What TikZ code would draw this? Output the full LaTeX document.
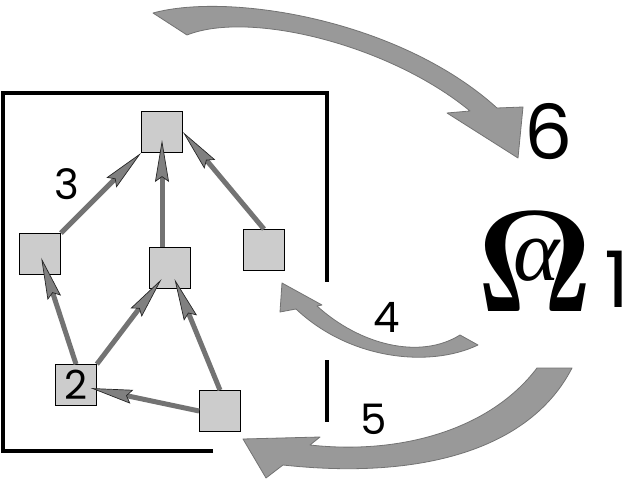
\documentclass[tikz,border=0pt]{standalone}
\usepackage[no-math]{fontspec}
\setmainfont{Poppins}
\newfontfamily\omegafont{Liberation Serif}
\usetikzlibrary{arrows.meta}
\tikzset{vertex/.style={draw, fill=black!20, line width=0.8pt, minimum size=41pt, inner sep=0pt}}
\tikzset{link/.style={draw=black!55, line width=5pt, -{Stealth[length=42pt, width=14pt, inset=5pt, fill=black!50, color=black!85, line width=0.7pt]}}}
\tikzset{bigarrow/.style={fill=black!40, draw=black!55, line width=0.8pt, line join=round}}
\tikzset{frame/.style={line width=4pt}}
\tikzset{numlbl/.style={inner sep=0pt, font=\fontsize{42}{42}\selectfont}}
\begin{document}
\begin{tikzpicture}[x=1pt, y=-1pt]
\useasboundingbox (0,0) rectangle (630,484);

% graph inside the frame
\node[vertex] (top) at (162,132) {};
\node[vertex] (lft) at (40,254) {};
\node[vertex] (mid) at (170,268) {};
\node[vertex] (rgt) at (264,250) {};
\node[vertex, font=\fontsize{40}{40}\selectfont] (two) at (76,385) {2};
\node[vertex] (bot) at (220,411) {};

\draw[link] (lft.north east) -- (top.south west);
\draw[link, shorten >=8pt] (top.center |- mid.north) -- (top.center);
\draw[link] (rgt.north) -- (top.east);
\draw[link, shorten >=4pt] (two.north) -- (lft.center);
\draw[link, shorten >=14pt] (two.north east) -- (mid.center);
\draw[link, shorten >=12pt] (bot.north) -- (mid.center);
\draw[link, shorten >=15pt] (bot.west) -- (two.center);

\draw[frame] (213,451) -- (3,451) -- (3,93) -- (327,93) -- (327,282);
\draw[frame] (327,360) -- (327,422);

\node[numlbl] (l3) at (67,184) {3};

% omega
\node[inner sep=0pt, font=\Huge, scale=5.8] (omega) at (535,262) {$\mathbf{\Omega}$};
\node[inner sep=0pt, font=\omegafont\itshape\fontsize{88}{88}\selectfont] (alpha) at (537,260) {α};
\node[numlbl, font=\fontsize{78}{78}\selectfont] (l1) at (617,279) {1};

% curved block arrows
\path[bigarrow] (153,13) .. controls (230,-8) and (400,20) .. (497,108) -- (523,107) -- (518,158) -- (447,113) -- (470,111) .. controls (390,45) and (250,10) .. (187,35) -- cycle;
\node[numlbl, font=\fontsize{76}{76}\selectfont] (l6) at (549,132) {6};

\path[bigarrow] (317,306) .. controls (360,345) and (420,360) .. (460,335) -- (478,345) .. controls (430,368) and (350,360) .. (296,309) -- (280,312) -- (282,283) -- (322,305) -- cycle;
\node[numlbl] (l4) at (387,317) {4};

\path[bigarrow] (537,368) -- (572,368) .. controls (530,450) and (420,480) .. (283,465) -- (266,478) -- (243,439) -- (320,437) -- (310,445) .. controls (400,455) and (490,430) .. (537,368) -- cycle;
\node[numlbl] (l5) at (374,419) {5};

\end{tikzpicture}
\end{document}
